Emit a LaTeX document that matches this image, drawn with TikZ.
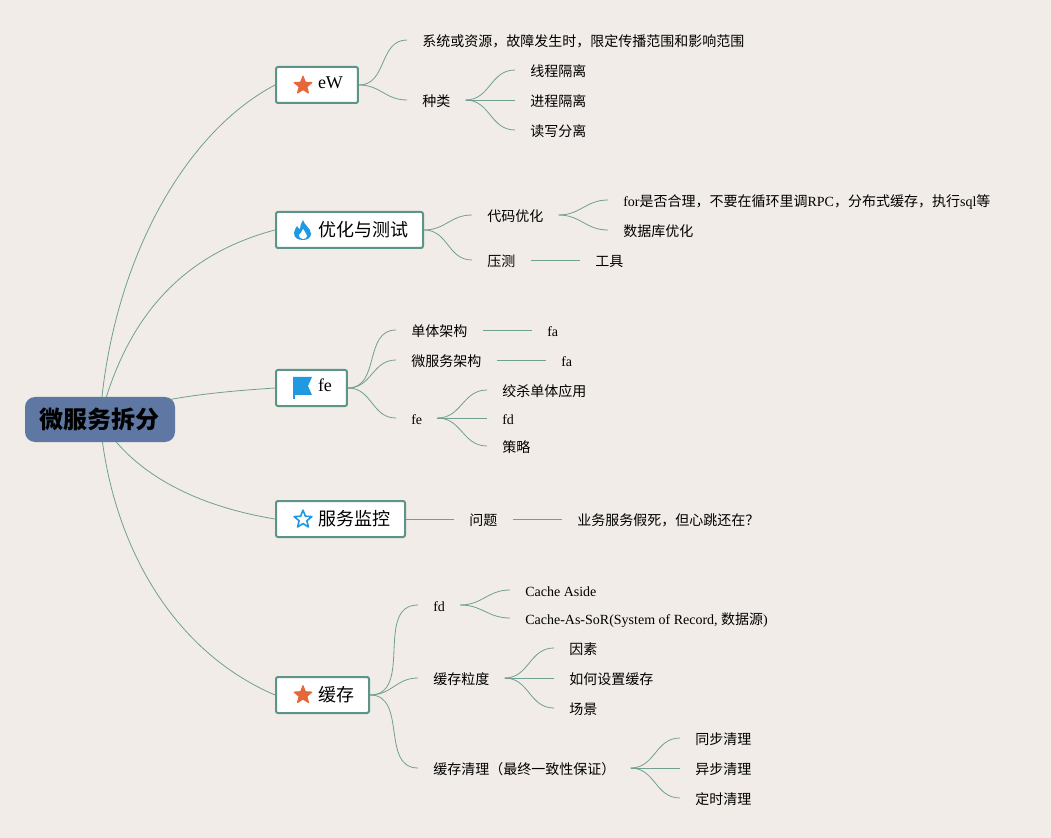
\documentclass[tikz,border=0pt]{standalone}
\usepackage{fontspec}
\setmainfont{Liberation Serif}
\newfontfamily\cjk{Noto Sans CJK SC}
\newcommand{\zh}[1]{{\cjk #1}}
\usetikzlibrary{shapes.geometric}
\usetikzlibrary{fit,backgrounds,scopes}
\definecolor{paper}{HTML}{F1ECE7}
\definecolor{linkgreen}{HTML}{6FA091}
\definecolor{boxgreen}{HTML}{5C9488}
\definecolor{rootblue}{HTML}{5F78A3}
\definecolor{iconorange}{HTML}{E4683A}
\definecolor{iconblue}{HTML}{2199E0}
\tikzset{
  root/.style={fill=rootblue, rounded corners=7.5pt, minimum width=112.5pt, minimum height=33.75pt,
    inner sep=0pt, font=\bfseries\fontsize{18}{18}\selectfont},
  topic/.style={draw=boxgreen, line width=1.5pt, fill=white, rounded corners=1.5pt, anchor=west,
    minimum height=27pt, inner xsep=11.25pt, inner ysep=0pt, text height=10pt, text depth=0pt,
    font=\fontsize{13.5}{13.5}\selectfont},
  leaf/.style={anchor=west, inner xsep=11.25pt, inner ysep=0pt, text height=10pt, text depth=0pt,
    font=\fontsize{10.5}{10.5}\selectfont},
  link/.style={draw=linkgreen, line width=0.6pt},
  fork/.style={out=0, in=180, looseness=1.1},
  iconstar/.style={star, star points=5, star point ratio=2.3, minimum size=14pt, inner sep=0pt, line join=round}
}
\newcommand{\iconpad}{\hspace*{20.25pt}}
\begin{document}
\begin{tikzpicture}[x=0.75pt, y=-0.75pt]
  \useasboundingbox (0,0) rectangle (1051,838);
  \node[root] (root) at (100,419.5) {\zh{微服务拆分}};

  \node[topic] (ew) at (275,85) {\iconpad\raisebox{2pt}{eW}};
  \node[topic] (perf) at (275,230) {\iconpad\zh{优化与测试}};
  \node[topic] (fe) at (275,388) {\iconpad\raisebox{2pt}{fe}};
  \node[topic] (watch) at (275,519) {\iconpad\zh{服务监控}};
  \node[topic] (cache) at (275,695) {\iconpad\zh{缓存}};

  \node[leaf] (ewdef) at (407,40) {\zh{系统或资源，故障发生时，限定传播范围和影响范围}};
  \node[leaf] (ewkind) at (407,100) {\zh{种类}};
  \node[leaf] (kinda) at (515,70) {\zh{线程隔离}};
  \node[leaf] (kindb) at (515,100) {\zh{进程隔离}};
  \node[leaf] (kindc) at (515,130) {\zh{读写分离}};

  \node[leaf] (code) at (472,215) {\zh{代码优化}};
  \node[leaf] (press) at (472,260) {\zh{压测}};
  \node[leaf] (codea) at (608,200) {for\zh{是否合理，不要在循环里调}RPC\zh{，分布式缓存，执行}sql\zh{等}};
  \node[leaf] (codeb) at (608,230) {\zh{数据库优化}};
  \node[leaf] (tool) at (580,260) {\zh{工具}};

  \node[leaf] (mono) at (396,330) {\zh{单体架构}};
  \node[leaf] (micro) at (396,360) {\zh{微服务架构}};
  \node[leaf] (fesub) at (396,418) {fe};
  \node[leaf] (monofa) at (532,330) {fa};
  \node[leaf] (microfa) at (546,360) {fa};
  \node[leaf] (fesuba) at (487,390) {\zh{绞杀单体应用}};
  \node[leaf] (fesubb) at (487,418) {fd};
  \node[leaf] (fesubc) at (487,446) {\zh{策略}};

  \node[leaf] (issue) at (454,519) {\zh{问题}};
  \node[leaf] (issuea) at (562,519) {\zh{业务服务假死，但心跳还在？}};

  \node[leaf] (cfd) at (418,605) {fd};
  \node[leaf] (grain) at (418,678) {\zh{缓存粒度}};
  \node[leaf] (clean) at (418,768) {\zh{缓存清理（最终一致性保证）}};
  \node[leaf] (cfda) at (510,590) {Cache Aside};
  \node[leaf] (cfdb) at (510,618) {Cache-As-SoR(System of Record, \zh{数据源})};
  \node[leaf] (graina) at (554,648) {\zh{因素}};
  \node[leaf] (grainb) at (554,678) {\zh{如何设置缓存}};
  \node[leaf] (grainc) at (554,708) {\zh{场景}};
  \node[leaf] (cleana) at (680,738) {\zh{同步清理}};
  \node[leaf] (cleanb) at (680,768) {\zh{异步清理}};
  \node[leaf] (cleanc) at (680,798) {\zh{定时清理}};

  \node[iconstar, fill=iconorange, draw=iconorange, line width=0.8pt] (ewicon) at (303,85.5) {};
  \node[iconstar, fill=iconorange, draw=iconorange, line width=0.8pt] (cacheicon) at (303,695) {};
  \node[iconstar, draw=iconblue, line width=1.2pt] (watchicon) at (303,519.5) {};
  \fill[iconblue] (293,377) -- (312,377) -- (308,386) -- (312,395) -- (295,395) -- (295,399) -- (293,399) -- cycle;
  \fill[iconblue] (303,220) .. controls (304,225) and (311,228) .. (311,234)
    .. controls (311,238) and (307,240) .. (303,240)
    .. controls (298,240) and (294,238) .. (294,233)
    .. controls (294,230) and (296,228) .. (297,226)
    .. controls (298,228) and (299,229) .. (300,229)
    .. controls (300,226) and (301,223) .. (303,220) -- cycle;
  \fill[white] (303,229) .. controls (304,232) and (307,233) .. (307,236)
    .. controls (307,238) and (305,239) .. (303,239)
    .. controls (300,239) and (299,237) .. (299,235)
    .. controls (300,234) and (302,232) .. (303,229) -- cycle;

  \begin{scope}[on background layer]
    \fill[paper] (0,0) rectangle (1051,838);
    \draw[link] (root.center) .. controls (110,270) and (180,135) .. (ew.west);
    \draw[link] (root.center) .. controls (125,320) and (180,255) .. (perf.west);
    \draw[link] (root.center) .. controls (150,398) and (215,392) .. (fe.west);
    \draw[link] (root.center) .. controls (130,470) and (190,505) .. (watch.west);
    \draw[link] (root.center) .. controls (110,540) and (170,650) .. (cache.west);

    \draw[link] (ew.east) to[fork] (ewdef.west);
    \draw[link] (ew.east) to[fork] (ewkind.west);
    \draw[link] (ewkind.east) to[fork] (kinda.west);
    \draw[link] (ewkind.east) -- (kindb.west);
    \draw[link] (ewkind.east) to[fork] (kindc.west);

    \draw[link] (perf.east) to[fork] (code.west);
    \draw[link] (perf.east) to[fork] (press.west);
    \draw[link] (code.east) to[fork] (codea.west);
    \draw[link] (code.east) to[fork] (codeb.west);
    \draw[link] (press.east) -- (tool.west);

    \draw[link] (fe.east) to[fork] (mono.west);
    \draw[link] (fe.east) to[fork] (micro.west);
    \draw[link] (fe.east) to[fork] (fesub.west);
    \draw[link] (mono.east) -- (monofa.west);
    \draw[link] (micro.east) -- (microfa.west);
    \draw[link] (fesub.east) to[fork] (fesuba.west);
    \draw[link] (fesub.east) -- (fesubb.west);
    \draw[link] (fesub.east) to[fork] (fesubc.west);

    \draw[link] (watch.east) -- (issue.west);
    \draw[link] (issue.east) -- (issuea.west);

    \draw[link] (cache.east) to[fork] (cfd.west);
    \draw[link] (cache.east) to[fork] (grain.west);
    \draw[link] (cache.east) to[fork] (clean.west);
    \draw[link] (cfd.east) to[fork] (cfda.west);
    \draw[link] (cfd.east) to[fork] (cfdb.west);
    \draw[link] (grain.east) to[fork] (graina.west);
    \draw[link] (grain.east) -- (grainb.west);
    \draw[link] (grain.east) to[fork] (grainc.west);
    \draw[link] (clean.east) to[fork] (cleana.west);
    \draw[link] (clean.east) -- (cleanb.west);
    \draw[link] (clean.east) to[fork] (cleanc.west);
  \end{scope}
\end{tikzpicture}
\end{document}
